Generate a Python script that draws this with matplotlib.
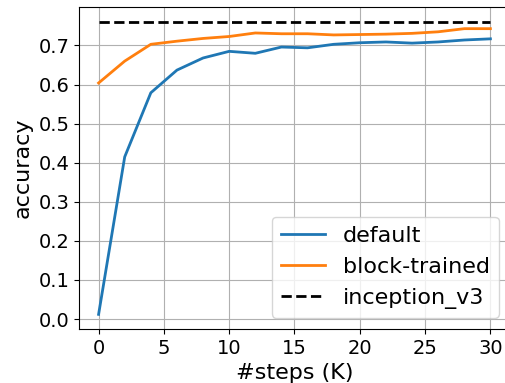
import matplotlib
matplotlib.use("Agg")
from matplotlib import pyplot as plt

steps = [0, 2, 4, 6, 8, 10, 12, 14, 16, 18, 20, 22, 24, 26, 28, 30]
default_acc = [0.012, 0.415, 0.579, 0.637, 0.668, 0.685, 0.680, 0.696, 0.694,
               0.703, 0.707, 0.709, 0.706, 0.709, 0.714, 0.717]
block_acc = [0.604, 0.660, 0.703, 0.711, 0.718, 0.723, 0.732, 0.730, 0.730,
             0.727, 0.728, 0.729, 0.731, 0.735, 0.743, 0.743]
inception_acc = 0.761

plt.rcParams["font.size"] = 14

fig = plt.figure(figsize=(5.06, 3.83), dpi=100)
ax = fig.add_axes([79 / 506, 54 / 383, 431 / 506, 322 / 383])

ax.plot(steps, default_acc, label="default", linewidth=2)
ax.plot(steps, block_acc, label="block-trained", linewidth=2)
ax.plot([steps[0], steps[-1]], [inception_acc, inception_acc], "k--",
        label="inception_v3", linewidth=2)

ax.set_xlabel("#steps (K)", fontsize=16)
ax.set_ylabel("accuracy", fontsize=16)
ax.set_yticks([0.0, 0.1, 0.2, 0.3, 0.4, 0.5, 0.6, 0.7])
ax.grid(True)
ax.legend(loc="lower right", fontsize=16)

fig.savefig("out.png", dpi=100)
